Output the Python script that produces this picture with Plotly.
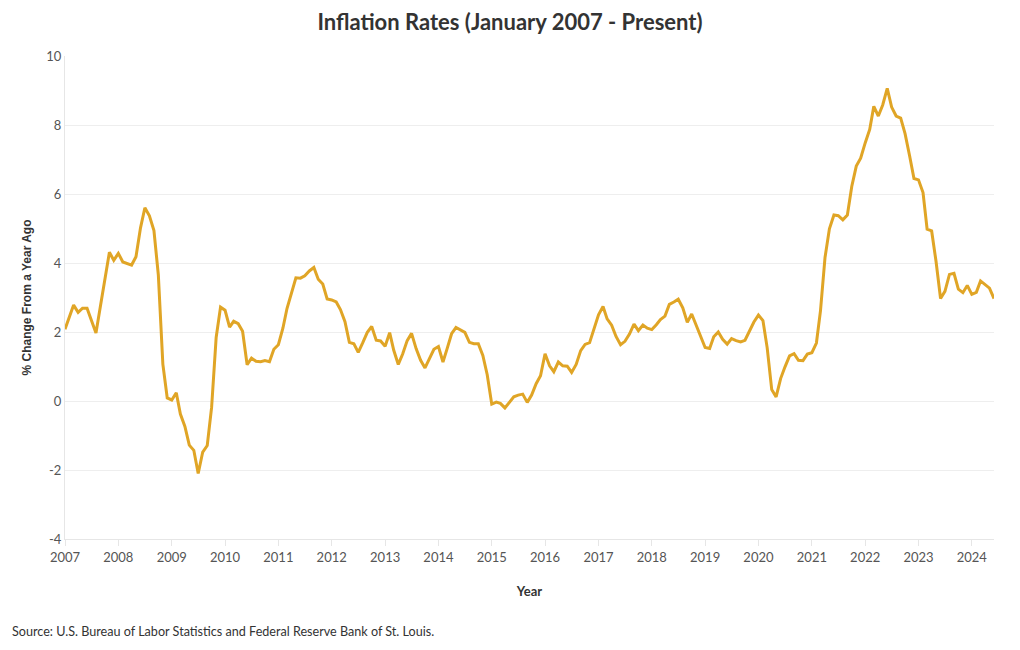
import plotly.graph_objects as go
import pandas as pd

years = list(range(2007, 2025))
values_by_year = {
    2007: [2.08, 2.42, 2.78, 2.57, 2.69, 2.69, 2.36, 1.97, 2.76, 3.54, 4.31, 4.08],
    2008: [4.28, 4.03, 3.98, 3.94, 4.18, 5.02, 5.60, 5.37, 4.94, 3.66, 1.07, 0.09],
    2009: [0.03, 0.24, -0.38, -0.74, -1.28, -1.43, -2.10, -1.48, -1.29, -0.18, 1.84, 2.72],
    2010: [2.63, 2.14, 2.31, 2.24, 2.02, 1.05, 1.24, 1.15, 1.14, 1.17, 1.14, 1.50],
    2011: [1.63, 2.11, 2.68, 3.16, 3.57, 3.56, 3.63, 3.77, 3.87, 3.53, 3.39, 2.96],
    2012: [2.93, 2.87, 2.65, 2.30, 1.70, 1.66, 1.41, 1.69, 1.99, 2.16, 1.76, 1.74],
    2013: [1.59, 1.98, 1.47, 1.06, 1.36, 1.75, 1.96, 1.52, 1.18, 0.96, 1.24, 1.50],
    2014: [1.58, 1.13, 1.51, 1.95, 2.13, 2.07, 1.99, 1.70, 1.66, 1.66, 1.32, 0.76],
    2015: [-0.09, -0.03, -0.07, -0.20, -0.04, 0.12, 0.17, 0.20, -0.04, 0.17, 0.50, 0.73],
    2016: [1.37, 1.02, 0.85, 1.13, 1.02, 1.01, 0.83, 1.06, 1.46, 1.64, 1.69, 2.07],
    2017: [2.50, 2.74, 2.38, 2.20, 1.87, 1.63, 1.73, 1.94, 2.23, 2.04, 2.20, 2.11],
    2018: [2.07, 2.21, 2.36, 2.46, 2.80, 2.87, 2.95, 2.70, 2.28, 2.52, 2.18, 1.91],
    2019: [1.55, 1.52, 1.86, 2.00, 1.79, 1.65, 1.81, 1.75, 1.71, 1.76, 2.05, 2.29],
    2020: [2.49, 2.33, 1.54, 0.33, 0.12, 0.65, 0.99, 1.31, 1.37, 1.18, 1.17, 1.36],
    2021: [1.40, 1.68, 2.62, 4.16, 4.99, 5.39, 5.37, 5.25, 5.39, 6.22, 6.81, 7.04],
    2022: [7.48, 7.87, 8.54, 8.26, 8.58, 9.06, 8.52, 8.26, 8.20, 7.75, 7.11, 6.45],
    2023: [6.41, 6.04, 4.98, 4.93, 4.05, 2.97, 3.18, 3.67, 3.70, 3.24, 3.14, 3.35],
    2024: [3.09, 3.15, 3.48, 3.36, 3.27, 2.97],
}

y_tick_vals = [-4, -2, 0, 2, 4, 6, 8, 10]
y_tick_text = ["-4", "-2", "0", "2", "4", "6", "8", "10"]

dates = []
values = []
for y in years:
    for m, v in enumerate(values_by_year[y], start=1):
        dates.append(pd.Timestamp(year=y, month=m, day=1))
        values.append(v)

tick_years = [str(y) for y in years]
tick_vals = [pd.Timestamp(year=y, month=1, day=1) for y in years]

font_family = "Source Sans Pro, Lato, Noto Sans, sans-serif"

fig = go.Figure()
fig.add_trace(go.Scatter(
    x=dates, y=values, mode="lines",
    line=dict(color="#E0A526", width=3),
    hoverinfo="x+y", showlegend=False,
))

fig.update_layout(
    width=1020, height=650,
    paper_bgcolor="white", plot_bgcolor="white",
    margin=dict(l=57, r=34, t=48, b=119, autoexpand=False),
    title=dict(
        text="<b>Inflation Rates (January 2007 - Present)</b>",
        x=502 / 1020, xanchor="center", xref="container",
        y=1 - 14 / 650, yanchor="middle",
        font=dict(family=font_family, size=22, color="#333333"),
    ),
    font=dict(family=font_family, size=13, color="#555555"),
    xaxis=dict(
        range=[dates[0], dates[-1]],
        tickvals=tick_vals, ticktext=tick_years,
        showgrid=False, showline=True, linecolor="#e6e6e6", linewidth=1,
        ticks="outside", tickcolor="#e6e6e6", ticklen=6,
        tickfont=dict(size=13, color="#555555"),
        title=dict(text="<b>Year</b>", font=dict(size=13, color="#333333"), standoff=23),
        zeroline=False,
    ),
    yaxis=dict(
        range=[-4, 10], tickvals=y_tick_vals, ticktext=y_tick_text,
        showgrid=True, gridcolor="#eeeeee", gridwidth=1,
        showline=True, linecolor="#e6e6e6", linewidth=1,
        ticks="", tickfont=dict(size=13, color="#555555"),
        title=dict(text="<b>% Change From a Year Ago</b>",
                   font=dict(family="Liberation Sans, Arial, sans-serif", size=12, color="#333333"),
                   standoff=12),
        zeroline=False,
    ),
    annotations=[dict(
        text="Source: U.S. Bureau of Labor Statistics and Federal Reserve Bank of St. Louis.",
        xref="paper", yref="paper", x=-55 / 929, y=-92 / 483,
        xanchor="left", yanchor="middle", showarrow=False,
        font=dict(family=font_family, size=12.6, color="#333333"),
    )],
)

fig.write_html("out.html")
